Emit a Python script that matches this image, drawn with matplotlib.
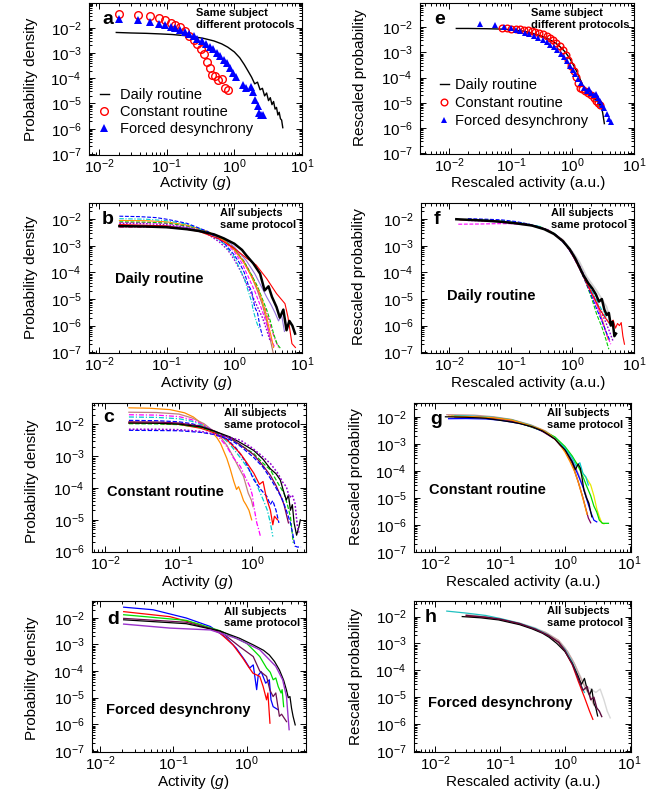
import matplotlib
matplotlib.use("Agg")
import matplotlib.pyplot as plt
from matplotlib.ticker import LogLocator, NullFormatter
import numpy as np

W, H = 664, 791

plt.rcParams.update({
    "font.family": ["Liberation Sans", "DejaVu Sans"],
    "mathtext.fontset": "custom",
    "mathtext.rm": "Liberation Sans",
    "mathtext.it": "Liberation Sans:italic",
    "axes.linewidth": 0.8,
})

# ---------------- panel a : same subject, different protocols ----------------
a_daily_x = [0.018, 0.03, 0.05, 0.08, 0.12, 0.18, 0.25, 0.35, 0.5, 0.65, 0.8, 1.0, 1.2, 1.4, 1.6,
             1.8, 2.0, 2.2, 2.4, 2.6, 2.8, 3.0, 3.2, 3.4, 3.6, 3.8, 4.0, 4.2, 4.4, 4.6, 4.8, 5.0, 5.2]
a_daily_y = [6.5e-3, 6.2e-3, 6.0e-3, 5.7e-3, 5.4e-3, 4.9e-3, 4.4e-3, 3.8e-3, 3.0e-3, 2.3e-3, 1.7e-3,
             1.1e-3, 6.5e-4, 3.5e-4, 1.9e-4, 1.1e-4, 6e-5, 7e-5, 3.5e-5, 4e-5, 2e-5, 2.6e-5, 1.3e-5,
             1.7e-5, 9e-6, 1.2e-5, 6e-6, 7e-6, 3.5e-6, 4.5e-6, 2.5e-6, 2.2e-6, 1.1e-6]
a_const_x = [0.02, 0.038, 0.057, 0.076, 0.095, 0.114, 0.135, 0.16, 0.185, 0.215, 0.25, 0.285,
             0.325, 0.36, 0.40, 0.435, 0.465, 0.52, 0.58, 0.66, 0.74, 0.8]
a_const_y = [3.5e-2, 3.3e-2, 2.8e-2, 2.4e-2, 1.95e-2, 1.6e-2, 1.3e-2, 1.07e-2, 7.1e-3, 4.8e-3,
             3.3e-3, 2.2e-3, 1.5e-3, 9e-4, 4.6e-4, 2.5e-4, 1.4e-4, 1.25e-4, 8.3e-5, 9e-5, 4e-5, 3.4e-5]
a_forced_x = [0.02, 0.038, 0.057, 0.076, 0.095, 0.114, 0.135, 0.16, 0.185, 0.215, 0.25, 0.285,
              0.33, 0.38, 0.435, 0.49, 0.55, 0.62, 0.7, 0.77, 0.86, 0.96, 1.07, 1.35, 1.5, 1.75,
              1.9, 2.05, 2.2, 2.35, 2.5, 2.65]
a_forced_y = [2.2e-2, 2.1e-2, 1.7e-2, 1.45e-2, 1.25e-2, 1.1e-2, 9.5e-3, 8.2e-3, 7e-3, 5.7e-3,
              4.6e-3, 3.7e-3, 2.9e-3, 2.2e-3, 1.7e-3, 1.4e-3, 1.0e-3, 7.5e-4, 5.5e-4, 4e-4, 2.5e-4,
              1.6e-4, 1.1e-4, 5.6e-5, 4.2e-5, 4.5e-5, 2.8e-5, 1.4e-5, 7.7e-6, 4.3e-6, 3.5e-6, 3.4e-6]

# ---------------- panel e : rescaled, same subject ----------------
e_daily_x = [0.013, 0.02, 0.04, 0.07, 0.1, 0.15, 0.2, 0.3, 0.4, 0.5, 0.6, 0.75, 0.9, 1.05, 1.2,
             1.35, 1.5, 1.7, 1.9, 2.1, 2.3, 2.5, 2.7, 2.9, 3.1, 3.3]
e_daily_y = [9e-3, 9e-3, 8.8e-3, 8.5e-3, 8e-3, 7.2e-3, 6.3e-3, 4.7e-3, 3.5e-3, 2.6e-3, 1.9e-3,
             1.1e-3, 6e-4, 3e-4, 1.6e-4, 8e-5, 4.5e-5, 3.2e-5, 2e-5, 2.4e-5, 1.3e-5, 1.6e-5, 8e-6,
             9e-6, 4e-6, 1.5e-6]
e_const_x = [0.072, 0.085, 0.1, 0.12, 0.14, 0.165, 0.19, 0.22, 0.25, 0.29, 0.33, 0.38, 0.43, 0.49,
             0.55, 0.62, 0.7, 0.78, 0.86, 0.95, 1.05, 1.15, 1.25, 1.35, 1.45, 1.6, 1.8, 2.0, 2.2,
             2.4, 2.6, 2.8]
e_const_y = [9e-3, 9e-3, 8.8e-3, 8.5e-3, 8.3e-3, 8e-3, 7.6e-3, 7.2e-3, 6.6e-3, 6e-3, 5.3e-3,
             4.6e-3, 3.8e-3, 3.1e-3, 2.4e-3, 1.8e-3, 1.2e-3, 8e-4, 5e-4, 3e-4, 1.8e-4, 1.1e-4, 6e-5,
             4e-5, 3.5e-5, 3e-5, 2.4e-5, 2e-5, 1.6e-5, 1.2e-5, 1e-5, 8e-6]
e_forced_x = [0.032, 0.056, 0.076, 0.1, 0.12, 0.14, 0.17, 0.2, 0.24, 0.28, 0.33, 0.38, 0.44, 0.5,
              0.57, 0.65, 0.73, 0.82, 0.92, 1.02, 1.12, 1.25, 1.4, 1.55, 1.7, 1.85, 2.0, 2.2, 2.4,
              2.6, 2.8, 3.0, 3.3, 3.6, 3.9, 4.2]
e_forced_y = [1.35e-2, 1.2e-2, 1.05e-2, 9e-3, 8e-3, 7.3e-3, 6.2e-3, 5.2e-3, 4.4e-3, 3.7e-3,
              3.0e-3, 2.5e-3, 2.0e-3, 1.6e-3, 1.2e-3, 9e-4, 6.5e-4, 4.5e-4, 3e-4, 2e-4, 1.4e-4,
              9e-5, 6e-5, 4e-5, 3e-5, 3.5e-5, 2.5e-5, 2e-5, 2.2e-5, 1.5e-5, 1.2e-5, 8e-6, 6e-6,
              3.5e-6, 2.2e-6, 1.8e-6]

# ---------------- panel b : all subjects, daily routine ----------------
b_blue = ([0.02, 0.04, 0.07, 0.1, 0.2, 0.4, 0.7, 1.0, 1.2, 1.4, 1.6, 1.8, 2.0, 2.2, 2.4, 2.6],
          [1.3e-2, 1.25e-2, 1.15e-2, 1.0e-2, 7e-3, 3.5e-3, 1.3e-3, 4.5e-4, 2.2e-4, 1e-4, 3.5e-5,
           2e-5, 5e-6, 3e-6, 9e-7, 4e-7])
b_cyan = ([0.02, 0.05, 0.1, 0.2, 0.4, 0.7, 1.0, 1.2, 1.4, 1.6, 1.8, 1.9, 2.1, 2.3],
          [1.05e-2, 1.0e-2, 8.8e-3, 6.5e-3, 3.4e-3, 1.2e-3, 3.8e-4, 1.4e-4, 6e-5, 2e-5, 8e-6,
           3.8e-6, 1.5e-6, 8e-7])
b_orange = ([0.02, 0.05, 0.1, 0.2, 0.4, 0.7, 1.0, 1.3, 1.6, 2.0, 2.3, 2.6, 2.9, 3.2, 3.5, 3.8],
            [9e-3, 8.8e-3, 8e-3, 6e-3, 3.5e-3, 1.6e-3, 7e-4, 3e-4, 1.2e-4, 4e-5, 2e-5, 8e-6, 3e-6,
             1e-6, 4e-7, 1.5e-7])
b_green = ([0.02, 0.05, 0.1, 0.2, 0.4, 0.7, 1.0, 1.4, 1.8, 2.2, 2.6, 3.0, 3.4, 3.8, 4.3, 4.8],
           [8e-3, 7.8e-3, 7.2e-3, 5.6e-3, 3.5e-3, 1.7e-3, 7.5e-4, 2.5e-4, 8e-5, 3e-5, 1e-5, 4e-6,
            1.5e-6, 5e-7, 2e-7, 1.4e-7])
b_magenta = ([0.02, 0.05, 0.1, 0.2, 0.4, 0.7, 1.0, 1.3, 1.6, 2.0, 2.4, 2.8, 3.2, 3.6, 4.0],
             [7.5e-3, 7.4e-3, 6.9e-3, 5.5e-3, 3.3e-3, 1.5e-3, 6e-4, 2.2e-4, 7e-5, 2e-5, 6e-6, 2e-6,
              6e-7, 2.5e-7, 1.5e-7])
b_purple = ([0.02, 0.05, 0.1, 0.2, 0.4, 0.6, 0.8, 1.0, 1.2, 1.5, 1.8, 2.2, 2.6, 3.0, 3.4],
            [7e-3, 6.8e-3, 6.2e-3, 5e-3, 2.8e-3, 1.4e-3, 7e-4, 3e-4, 1.3e-4, 4e-5, 1.5e-5, 5e-6,
             2e-6, 7e-7, 2.5e-7])
b_violet = ([0.02, 0.05, 0.1, 0.2, 0.4, 0.7, 1.0, 1.5, 2.0, 2.5, 3.0, 3.5, 4.0, 4.5, 5.0, 5.5],
            [6e-3, 5.9e-3, 5.6e-3, 4.8e-3, 3.3e-3, 1.9e-3, 9e-4, 2.8e-4, 9e-5, 3e-5, 1.2e-5, 6e-6,
             3e-6, 1.5e-6, 2.5e-6, 6e-7])
b_brown = ([0.02, 0.05, 0.1, 0.2, 0.4, 0.7, 1.0, 1.4, 1.8, 2.2, 2.6, 3.0, 3.4, 3.8],
           [5.8e-3, 5.7e-3, 5.5e-3, 4.8e-3, 3.3e-3, 1.7e-3, 7e-4, 2.3e-4, 7e-5, 2e-5, 6e-6, 1.5e-6,
            3e-7, 8e-8])
b_pink = ([0.02, 0.05, 0.1, 0.2, 0.4, 0.7, 1.0, 1.4, 1.8, 2.2, 2.6, 3.0, 3.5, 4.0, 4.5],
          [5e-3, 5e-3, 4.9e-3, 4.4e-3, 3.2e-3, 1.8e-3, 8e-4, 2.6e-4, 8e-5, 2.5e-5, 8e-6, 3e-6,
           8e-7, 3e-7, 1.5e-7])
b_red = ([0.02, 0.1, 0.3, 0.6, 1.0, 1.5, 2.1, 3.0, 4.2, 5.6, 6.2, 7.1, 8.0],
         [6.3e-3, 5.6e-3, 3.5e-3, 1.8e-3, 8e-4, 3.5e-4, 1.9e-4, 5.9e-5, 1.6e-5, 6.7e-6, 2.1e-6,
          2.1e-7, 1.5e-7])
b_black = ([0.02, 0.05, 0.1, 0.2, 0.3, 0.5, 0.7, 1.0, 1.3, 1.5, 1.9, 2.4, 2.8, 3.2, 3.6, 4.2,
            4.7, 5.3, 5.9, 6.5, 7.2, 7.9],
           [5.5e-3, 5.3e-3, 5.0e-3, 4.2e-3, 3.6e-3, 2.7e-3, 1.9e-3, 1.2e-3, 7e-4, 4.4e-4, 2.2e-4,
            9e-5, 2.1e-5, 3e-5, 1.2e-5, 5e-6, 2e-6, 4e-6, 6.7e-7, 1.5e-6, 1e-6, 5e-7])

# ---------------- panel f : rescaled, daily routine ----------------
f_gray = ([0.015, 0.05, 0.1, 0.2, 0.4, 0.7, 1.0, 1.3, 1.7, 2.1, 2.5, 3.0, 3.6, 4.0],
          [9.5e-3, 8.5e-3, 7.5e-3, 6e-3, 4e-3, 1.7e-3, 6e-4, 2.5e-4, 7e-5, 3.5e-5, 2e-5, 1e-5,
           5e-6, 2e-6])
f_blue = ([0.02, 0.04, 0.07, 0.12, 0.2, 0.35, 0.55, 0.8, 1.0, 1.3, 1.6, 2.0, 2.5, 3.0, 3.5, 4.0],
          [1.05e-2, 1.0e-2, 9.5e-3, 8.2e-3, 6.5e-3, 4.5e-3, 2.5e-3, 1e-3, 4.5e-4, 1.4e-4, 5e-5,
           1.5e-5, 4e-6, 1.5e-6, 6e-7, 3e-7])
f_cyan = ([0.018, 0.04, 0.08, 0.15, 0.3, 0.5, 0.8, 1.0, 1.3, 1.7, 2.2, 2.7, 3.2, 3.7, 4.2],
          [9.8e-3, 9.2e-3, 8.4e-3, 7.2e-3, 5.3e-3, 3e-3, 1.1e-3, 4.8e-4, 1.6e-4, 4.5e-5, 1.5e-5,
           6e-6, 3e-6, 1.5e-6, 1e-6])
f_magenta = ([0.014, 0.03, 0.06, 0.1, 0.2, 0.35, 0.55, 0.8, 1.0, 1.3, 1.7, 2.2, 2.7, 3.2, 3.7, 4.2],
             [6.5e-3, 6.6e-3, 6.8e-3, 6.8e-3, 6e-3, 4.3e-3, 2.5e-3, 1e-3, 4.5e-4, 1.5e-4, 4e-5,
              1.1e-5, 3.5e-6, 1e-6, 4e-7, 2e-7])
f_green = ([0.02, 0.04, 0.08, 0.15, 0.3, 0.5, 0.8, 1.0, 1.3, 1.7, 2.1, 2.5, 3.0, 3.5, 3.9],
           [9.5e-3, 9.2e-3, 8.5e-3, 7.3e-3, 5.2e-3, 3e-3, 1.1e-3, 5e-4, 1.5e-4, 3.5e-5, 9e-6,
            2.5e-6, 9e-7, 3e-7, 1.3e-7])
f_purple = ([0.02, 0.05, 0.1, 0.2, 0.4, 0.7, 1.0, 1.3, 1.7, 2.2, 2.8, 3.4, 4.0, 4.6],
            [9e-3, 8.6e-3, 7.8e-3, 6.3e-3, 4e-3, 1.6e-3, 5.5e-4, 1.8e-4, 5e-5, 1.4e-5, 4e-6, 1.5e-6,
             6e-7, 2.5e-7])
f_orange = ([0.02, 0.05, 0.1, 0.2, 0.4, 0.7, 1.0, 1.3, 1.7, 2.2, 2.7, 3.2, 3.8],
            [9.3e-3, 8.8e-3, 7.9e-3, 6.2e-3, 4e-3, 1.6e-3, 5e-4, 1.6e-4, 4.5e-5, 1.2e-5, 4e-6,
             1.2e-6, 3e-7])
f_red = ([0.015, 0.03, 0.06, 0.1, 0.2, 0.35, 0.5, 0.7, 0.9, 1.1, 1.4, 1.8, 2.3, 2.8, 3.4, 4.0,
          4.6, 5.0, 5.4, 5.8, 6.2, 6.6, 7.0],
         [9.5e-3, 9e-3, 8.3e-3, 7.6e-3, 6.2e-3, 4.4e-3, 2.9e-3, 1.5e-3, 7e-4, 3e-4, 1e-4, 3e-5,
          1e-5, 4e-6, 2e-6, 1.2e-6, 1.6e-6, 8e-7, 1.2e-6, 1e-6, 1.3e-6, 4e-7, 2e-7])
f_black = ([0.013, 0.02, 0.04, 0.07, 0.12, 0.22, 0.35, 0.5, 0.7, 0.9, 1.1, 1.3, 1.5, 1.8, 2.1,
            2.4, 2.7, 3.0, 3.3, 3.6, 3.9, 4.2, 4.5, 4.8, 5.1],
           [1.0e-2, 9.5e-3, 8.8e-3, 8e-3, 7e-3, 5.8e-3, 4.2e-3, 2.8e-3, 1.5e-3, 7.5e-4, 3.5e-4,
            1.6e-4, 8e-5, 4e-5, 2.5e-5, 1.5e-5, 8e-6, 1e-5, 4e-6, 2.5e-6, 3e-6, 1e-6, 1.4e-6,
            4e-7, 5e-7])

# ---------------- panel c : all subjects, constant routine ----------------
c_orange = ([0.021, 0.04, 0.076, 0.12, 0.158, 0.2, 0.27, 0.33, 0.37, 0.45, 0.5, 0.56, 0.61, 0.65,
             0.7, 0.76, 0.82, 0.9, 0.98],
            [3.3e-2, 3.2e-2, 2.9e-2, 2.3e-2, 1.7e-2, 1.1e-2, 6.5e-3, 3.8e-3, 2.5e-3, 8.5e-4, 4e-4,
             1.6e-4, 9e-5, 1.1e-4, 7e-5, 4e-5, 3e-5, 2e-5, 1e-5])
c_brown = ([0.021, 0.05, 0.1, 0.15, 0.22, 0.3, 0.37, 0.45, 0.55, 0.65, 0.76, 0.88, 0.97, 1.02],
           [2.4e-2, 2.35e-2, 2.1e-2, 1.6e-2, 1.05e-2, 6e-3, 4e-3, 2.2e-3, 9.7e-4, 4.5e-4, 2.3e-4,
            6.9e-5, 4.2e-5, 2.6e-5])
c_magenta = ([0.021, 0.05, 0.1, 0.15, 0.22, 0.3, 0.45, 0.55, 0.69, 0.8, 0.93, 1.0, 1.05, 1.15,
              1.22, 1.29],
             [2e-2, 1.95e-2, 1.75e-2, 1.4e-2, 9.5e-3, 6e-3, 2.0e-3, 9e-4, 4.7e-4, 2.2e-4, 1.1e-4,
              6e-5, 2.6e-5, 8e-6, 5e-6, 3e-6])
c_cyan = ([0.021, 0.05, 0.1, 0.15, 0.22, 0.3, 0.4, 0.5, 0.7, 0.85, 1.05, 1.2, 1.41, 1.6, 1.76, 1.9],
          [1.7e-2, 1.65e-2, 1.5e-2, 1.25e-2, 9e-3, 6e-3, 3.8e-3, 2.3e-3, 8.5e-4, 4.5e-4, 2.2e-4,
           1e-4, 4.2e-5, 2e-5, 8e-6, 3e-6])
c_blue = ([0.021, 0.05, 0.1, 0.15, 0.22, 0.3, 0.45, 0.6, 0.8, 1.05, 1.3, 1.58, 1.75, 1.9, 2.1, 2.3],
          [1.33e-2, 1.3e-2, 1.2e-2, 1.05e-2, 8.2e-3, 6e-3, 3.5e-3, 1.8e-3, 7e-4, 1.8e-4, 9e-5,
           5.4e-5, 3e-5, 4e-5, 2e-5, 8e-6])
c_red = ([0.021, 0.05, 0.1, 0.2, 0.3, 0.45, 0.69, 0.85, 1.05, 1.25, 1.4, 1.55, 1.76, 1.9, 2.0, 2.2],
         [1.1e-2, 1.08e-2, 1.0e-2, 7.5e-3, 5.5e-3, 3.3e-3, 1.2e-3, 6e-4, 2.9e-4, 1.3e-4, 1.6e-4,
          5e-5, 2e-5, 7e-6, 1.3e-5, 1e-5])
c_green = ([0.021, 0.05, 0.1, 0.2, 0.3, 0.5, 0.7, 1.05, 1.4, 1.76, 2.2, 2.7, 3.0, 3.3, 3.6],
           [1.05e-2, 1.03e-2, 9.8e-3, 8e-3, 6e-3, 3.6e-3, 2.2e-3, 1.2e-3, 6e-4, 3.7e-4, 1.5e-4,
            6.8e-5, 3e-5, 1.26e-5, 1.9e-6])
c_maroon = ([0.021, 0.05, 0.1, 0.2, 0.3, 0.5, 0.7, 1.05, 1.4, 1.76, 2.1, 2.4, 2.7, 2.9, 3.1],
            [1.2e-2, 1.18e-2, 1.1e-2, 8.8e-3, 6.3e-3, 3.7e-3, 2.2e-3, 1.1e-3, 5e-4, 2.5e-4, 1.2e-4,
             6e-5, 3e-5, 1.5e-5, 8e-6])
c_black = ([0.021, 0.05, 0.1, 0.2, 0.3, 0.5, 0.7, 1.05, 1.4, 1.76, 2.1, 2.4, 2.7, 2.9, 3.1, 3.3,
            3.5, 3.7, 4.0, 4.3, 4.5],
           [1.1e-2, 1.08e-2, 1.02e-2, 8.3e-3, 6.2e-3, 4e-3, 2.6e-3, 1.5e-3, 8e-4, 4e-4, 2.8e-4,
            1.8e-4, 7e-5, 4.2e-5, 6e-5, 2e-5, 3e-5, 8e-6, 3.3e-6, 6e-6, 1e-5])
c_blue2 = ([0.021, 0.05, 0.1, 0.2, 0.3, 0.5, 0.7, 1.05, 1.4, 1.76, 2.1, 2.5, 2.9, 3.3, 3.6, 3.8,
            4.1, 4.6],
           [6.5e-3, 6.4e-3, 6.3e-3, 5.6e-3, 4.8e-3, 3.3e-3, 2e-3, 9e-4, 4.5e-4, 2e-4, 1e-4, 5e-5,
            2e-5, 8e-6, 3e-6, 1.5e-6, 1.4e-6, 1.4e-6])
c_purple = ([0.021, 0.05, 0.1, 0.2, 0.3, 0.45, 0.69, 1.0, 1.3, 1.76, 2.2, 2.6, 2.9, 3.2, 3.5, 3.8,
             4.1, 4.3],
            [7e-3, 7e-3, 6.8e-3, 6e-3, 5e-3, 4e-3, 3.2e-3, 1.8e-3, 1.1e-3, 5.9e-4, 3e-4, 1.5e-4,
             1.1e-4, 5e-5, 6e-5, 3.3e-5, 6.3e-6, 4e-6])

# ---------------- panel g : rescaled, constant routine ----------------
g_pink = ([0.015, 0.04, 0.08, 0.15, 0.3, 0.5, 0.7, 1.0, 1.3, 1.6, 2.0, 2.4],
          [1.2e-2, 1.15e-2, 1.0e-2, 8e-3, 5e-3, 3e-3, 1.7e-3, 6.5e-4, 2.5e-4, 8e-5, 2e-5, 5e-6])
g_blue = ([0.016, 0.03, 0.06, 0.1, 0.2, 0.31, 0.5, 0.7, 1.0, 1.3, 1.6, 1.9, 2.2, 2.5, 2.8, 3.1],
          [8.5e-3, 8.6e-3, 8.3e-3, 7.5e-3, 5.7e-3, 4.3e-3, 2.6e-3, 1.5e-3, 6e-4, 2.2e-4, 7e-5,
           2.5e-5, 8e-6, 3e-6, 1.5e-6, 1.3e-6])
g_yellow = ([0.02, 0.05, 0.1, 0.2, 0.4, 0.7, 1.0, 1.3, 1.6, 1.9, 2.2, 2.5, 2.8, 3.1, 3.4, 3.7, 4.0],
            [1.0e-2, 9.5e-3, 8.3e-3, 6.2e-3, 3.6e-3, 1.7e-3, 7e-4, 3.2e-4, 1.6e-4, 8e-5, 5e-5,
             3e-5, 1.2e-5, 4e-6, 2e-6, 1.2e-6, 1.1e-6])
g_green = ([0.018, 0.04, 0.08, 0.15, 0.3, 0.4, 0.5, 0.7, 1.0, 1.3, 1.6, 1.9, 2.2, 2.5, 2.8, 3.1,
            3.4, 3.8, 4.2, 4.7],
           [1.05e-2, 1.0e-2, 9e-3, 7.5e-3, 4.2e-3, 3.3e-3, 2.7e-3, 1.8e-3, 8e-4, 3.5e-4, 1.5e-4,
            6e-5, 2.5e-5, 1.2e-5, 5e-6, 3e-6, 1.5e-6, 1.15e-6, 1.15e-6, 1.15e-6])
g_cyan = ([0.02, 0.04, 0.08, 0.15, 0.3, 0.5, 0.7, 1.0, 1.3, 1.5, 1.7, 1.9, 2.1, 2.3],
          [1.1e-2, 1.05e-2, 9.5e-3, 7.8e-3, 4.8e-3, 2.8e-3, 1.6e-3, 7e-4, 3e-4, 1.5e-4, 2e-4,
           8e-5, 6e-5, 3e-5])
g_purple = ([0.02, 0.05, 0.1, 0.2, 0.4, 0.7, 1.0, 1.3, 1.6, 1.9, 2.1, 2.3, 2.5],
            [1.0e-2, 9.5e-3, 8.4e-3, 6e-3, 3.4e-3, 1.5e-3, 5.5e-4, 1.8e-4, 4e-5, 1e-5, 4e-6,
             1.8e-6, 1.2e-6])
g_orange = ([0.016, 0.04, 0.08, 0.15, 0.3, 0.45, 0.6, 0.8, 1.0, 1.2, 1.4, 1.6, 1.8, 2.0, 2.2],
            [1.05e-2, 1.0e-2, 9.2e-3, 7.6e-3, 4.6e-3, 3.2e-3, 2.1e-3, 1.1e-3, 5e-4, 2.2e-4, 1e-4,
             4e-5, 1.5e-5, 6e-6, 2.5e-6])
g_black = ([0.0143, 0.03, 0.06, 0.095, 0.15, 0.2, 0.31, 0.45, 0.57, 0.7, 0.85, 1.01, 1.15, 1.29,
            1.45, 1.6, 1.73, 1.85, 1.96, 2.15, 2.34, 2.6],
           [1.0e-2, 9.6e-3, 8.8e-3, 7.5e-3, 6.4e-3, 5.6e-3, 4.3e-3, 3e-3, 2.1e-3, 1.5e-3, 9e-4,
            5.9e-4, 3.5e-4, 2.2e-4, 1.1e-4, 1.8e-4, 1.25e-4, 5e-5, 2e-5, 1e-5, 6.4e-6, 2e-6])

# ---------------- panel d : all subjects, forced desynchrony ----------------
d_blue = ([0.021, 0.053, 0.15, 0.32, 0.53, 0.72, 0.94, 1.1, 1.23, 1.37, 1.44, 1.58, 1.82, 2.04,
           2.15, 2.3, 2.7],
          [2.5e-2, 2e-2, 9.8e-3, 4.7e-3, 1.75e-3, 7.3e-4, 2.6e-4, 1.3e-4, 1.7e-4, 2e-5, 7e-5,
           9.5e-5, 3.5e-5, 4.7e-5, 8.3e-6, 4.6e-6, 3.5e-6])
d_red = ([0.021, 0.09, 0.23, 0.43, 0.65, 0.89, 1.05, 1.22, 1.51, 1.68, 1.87, 1.95, 2.08],
         [1.7e-2, 1.1e-2, 5.5e-3, 2.7e-3, 9.7e-4, 3e-4, 1.5e-4, 8.3e-5, 6.3e-5, 2.6e-5, 8.3e-6,
          1.5e-5, 1.1e-6])
d_green = ([0.021, 0.15, 0.43, 1.0, 1.25, 1.51, 1.87, 2.1, 2.3, 2.5, 2.7, 2.95, 3.05, 3.2],
           [1.3e-2, 8e-3, 3.3e-3, 1.1e-3, 6e-4, 3.5e-4, 1.3e-4, 9e-5, 4.7e-5, 5.5e-5, 2.6e-5,
            1.5e-5, 2e-5, 4.6e-6])
d_maroon = ([0.021, 0.15, 0.43, 0.81, 1.23, 1.51, 1.87, 2.08, 2.3, 2.5, 2.8, 3.0, 3.5],
            [9.5e-3, 6.8e-3, 3.2e-3, 8.1e-4, 3.5e-4, 1e-4, 6.3e-5, 1.9e-5, 1.1e-5, 1.5e-5, 2e-6,
             2.4e-6, 1.26e-6])
d_black = ([0.021, 0.15, 0.43, 0.8, 1.23, 1.7, 2.04, 2.4, 2.8, 3.2, 3.5, 3.7, 3.9, 4.1, 4.3, 4.6],
           [8.4e-3, 6e-3, 3.2e-3, 1.7e-3, 9.6e-4, 6e-4, 4e-4, 2.3e-4, 1.1e-4, 4.5e-5, 1.9e-5,
            1e-5, 1.1e-5, 4e-6, 2e-6, 9.5e-7])
d_violet = ([0.021, 0.09, 0.32, 0.72, 1.51, 2.5, 3.1, 3.5, 3.65, 3.8],
            [5.8e-3, 4.1e-3, 3.5e-3, 1.7e-3, 6.3e-4, 1.5e-4, 4.7e-5, 1.1e-5, 2.5e-6, 6.3e-7])

# ---------------- panel h : rescaled, forced desynchrony ----------------
h_gray = ([0.03, 0.06, 0.1, 0.2, 0.35, 0.55, 0.8, 1.0, 1.3, 1.6, 2.0, 2.5, 3.0, 3.5, 4.0, 4.5, 5.0],
          [1.2e-2, 1.0e-2, 8.3e-3, 5.8e-3, 3.8e-3, 2.3e-3, 1.3e-3, 7e-4, 2.5e-4, 9e-5, 3e-5, 2e-5,
           1.5e-5, 2e-5, 8e-6, 3e-6, 1.7e-6])
h_pink = ([0.03, 0.07, 0.15, 0.3, 0.5, 0.8, 1.1, 1.4, 1.7, 2.1, 2.5, 2.8],
          [1.15e-2, 9e-3, 6.5e-3, 4e-3, 2.6e-3, 1.3e-3, 5e-4, 1.8e-4, 6e-5, 2e-5, 1e-5, 5e-6])
h_cyan = ([0.015, 0.03, 0.06, 0.1, 0.2, 0.35, 0.55, 0.8, 1.0, 1.3, 1.6, 1.8, 2.0],
          [1.6e-2, 1.35e-2, 1.1e-2, 8.5e-3, 5.6e-3, 3.6e-3, 2.1e-3, 1.1e-3, 6e-4, 2e-4, 6e-5,
           2.5e-5, 1.5e-5])
h_red = ([0.03, 0.06, 0.1, 0.2, 0.35, 0.55, 0.8, 1.0, 1.3, 1.6, 2.0, 2.4, 2.7],
         [1.05e-2, 9.2e-3, 7.8e-3, 5.3e-3, 3.3e-3, 2e-3, 1.1e-3, 5.2e-4, 1.6e-4, 4e-5, 1e-5, 3e-6,
          1.5e-6])
h_black = ([0.026, 0.05, 0.095, 0.2, 0.31, 0.45, 0.57, 0.75, 1.0, 1.3, 1.6, 1.8, 2.0, 2.2, 2.4,
            2.6, 2.8, 3.0, 3.2],
           [1.0e-2, 9e-3, 7.5e-3, 5e-3, 3.5e-3, 2.4e-3, 1.7e-3, 1e-3, 5e-4, 1.8e-4, 6e-5, 3e-5,
            5e-5, 2e-5, 1.2e-5, 2e-5, 6e-6, 4e-6, 2e-6])
h_maroon = ([0.03, 0.06, 0.1, 0.2, 0.35, 0.55, 0.8, 1.0, 1.3, 1.6, 1.9, 2.2, 2.5, 2.8, 3.1, 3.4, 3.7],
            [1.1e-2, 9.5e-3, 8e-3, 5.5e-3, 3.4e-3, 2e-3, 1.1e-3, 5.5e-4, 1.7e-4, 5e-5, 1.8e-5,
             2.5e-5, 8e-6, 1e-5, 4e-6, 3e-6, 1.9e-6])

DASH = (0, (3.5, 1.5))
DASHDOT = (0, (4, 1.5, 1, 1.5))
DOT = (0, (1.2, 1.2))

fig = plt.figure(figsize=(W / 100, H / 100), dpi=100)


def add_axes(l, t, r, b, xl, yl):
    ax = fig.add_axes([l / W, 1 - b / H, (r - l) / W, (b - t) / H])
    ax.set_xscale("log")
    ax.set_yscale("log")
    ax.set_xlim(10 ** xl[0], 10 ** xl[1])
    ax.set_ylim(10 ** yl[0], 10 ** yl[1])
    for axis in (ax.xaxis, ax.yaxis):
        axis.set_major_locator(LogLocator(base=10, numticks=30))
        axis.set_minor_locator(LogLocator(base=10, subs=np.arange(2, 10), numticks=100))
        axis.set_minor_formatter(NullFormatter())
    ax.tick_params(which="both", direction="in", top=True, right=True, width=0.7)
    ax.tick_params(which="major", length=4, labelsize=11)
    ax.tick_params(axis="y", which="major", pad=5.5)
    ax.tick_params(axis="x", which="major", pad=1.5)
    ax.tick_params(which="minor", length=2)
    return ax


def ftext(x, y, s, **kw):
    fig.text(x / W, 1 - y / H, s, **kw)


def draw(ax, curves):
    for (xs, ys), col, ls, lw in curves:
        ax.plot(xs, ys, color=col, ls=ls, lw=lw)


def annotate(lx, ly, letter, tx, ty, lines, px, py, name):
    ftext(lx, ly, letter, fontsize=14, fontweight="bold", va="center")
    ftext(tx, ty, lines[0], fontsize=8, fontweight="bold", va="center")
    ftext(tx, ty + 11.5, lines[1], fontsize=8, fontweight="bold", va="center")
    if name:
        ftext(px, py, name, fontsize=10.5, fontweight="bold", va="center")


def labels(xc, yc, xlab, ylx, yly, ylab):
    ftext(xc, yc, xlab, fontsize=11, ha="center", va="center")
    ftext(ylx, yly, ylab, fontsize=11, ha="center", va="center", rotation=90)


ACT = r"Activity ($\mathit{g}$)"
RACT = "Rescaled activity (a.u.)"

# ---- a ----
ax = add_axes(89, 3, 302, 155, (-2.148, 1.0), (-7.04, -1.02))
ax.plot(a_daily_x, a_daily_y, color="black", lw=1.0, label="Daily routine")
ax.plot(a_const_x, a_const_y, "o", mfc="none", mec="#ff0000", mew=1.0, ms=5.5, label="Constant routine")
ax.plot(a_forced_x, a_forced_y, "^", color="#0000ff", ms=6, mew=0, label="Forced desynchrony")
ax.legend(loc="upper left", bbox_to_anchor=(100 / W, 1 - 88 / H), bbox_transform=fig.transFigure,
          frameon=False, fontsize=10.5, handlelength=0.6, handletextpad=0.75, labelspacing=0.22,
          borderpad=0, borderaxespad=0, markerscale=1.0)
annotate(102, 19, "a", 196, 13.5, ["Same subject", "different protocols"], 0, 0, None)
labels(195, 183, ACT, 31, 79, "Probability density")

# ---- e ----
ax = add_axes(420, 3, 634, 154, (-2.476, 1.0), (-7.03, -1.035))
ax.plot(e_daily_x, e_daily_y, color="black", lw=1.0, label="Daily routine")
ax.plot(e_const_x, e_const_y, "o", mfc="none", mec="#ff0000", mew=1.0, ms=4.8, label="Constant routine")
ax.plot(e_forced_x, e_forced_y, "^", color="#0000ff", ms=5, mew=0, label="Forced desynchrony")
ax.legend(loc="upper left", bbox_to_anchor=(440 / W, 1 - 78 / H), bbox_transform=fig.transFigure,
          frameon=False, fontsize=10.5, handlelength=0.6, handletextpad=0.4, labelspacing=0.28,
          borderpad=0, borderaxespad=0)
annotate(434, 19, "e", 531, 13.5, ["Same subject", "different protocols"], 0, 0, None)
labels(528, 183, RACT, 360, 78, "Rescaled probability")

# ---- b ----
ax = add_axes(89, 203, 302, 353, (-2.148, 1.0), (-7.03, -1.39))
draw(ax, [
    (b_brown, "#b07060", "-", 0.8),
    (b_pink, "#ff1493", DASHDOT, 0.8),
    (b_violet, "#9370db", "-", 0.8),
    (b_purple, "#9400d3", DOT, 1.0),
    (b_magenta, "#ff00ff", DASH, 0.8),
    (b_green, "#00cc00", DASH, 0.8),
    (b_orange, "#ff8c00", "-", 0.8),
    (b_cyan, "#00cccc", DASHDOT, 0.8),
    (b_blue, "#0000ff", DASH, 0.8),
    (b_red, "#ff0000", "-", 0.8),
    (b_black, "black", "-", 1.8),
])
annotate(102, 219, "b", 220, 213, ["All subjects", "same protocol"], 115, 279, "Daily routine")
labels(196, 383, ACT, 31, 277, "Probability density")

# ---- f ----
ax = add_axes(421, 203, 634, 353, (-2.46, 1.0), (-7.03, -1.39))
draw(ax, [
    (f_gray, "#d0d0d0", "-", 1.2),
    (f_orange, "#ff8c00", "-", 0.8),
    (f_green, "#00cc00", DASH, 0.8),
    (f_purple, "#9400d3", DOT, 1.0),
    (f_cyan, "#00cccc", DASHDOT, 0.8),
    (f_magenta, "#ff00ff", DASH, 0.8),
    (f_blue, "#0000ff", DASH, 0.8),
    (f_red, "#ff0000", "-", 0.8),
    (f_black, "black", "-", 1.8),
])
annotate(434, 219, "f", 551, 213, ["All subjects", "same protocol"], 447, 296, "Daily routine")
labels(528, 383, RACT, 359, 277, "Rescaled probability")

# ---- c ----
ax = add_axes(92, 403, 306, 552, (-2.18, 0.73), (-6.01, -1.33))
draw(ax, [
    (c_orange, "#ff8c00", "-", 0.9),
    (c_brown, "#c08080", "-", 0.9),
    (c_magenta, "#ff00ff", DASHDOT, 0.9),
    (c_cyan, "#00cccc", DASHDOT, 0.9),
    (c_blue, "#0000ff", DASH, 0.9),
    (c_red, "#ff0000", "-", 0.9),
    (c_green, "#00cc00", DASH, 0.9),
    (c_maroon, "#800050", "-", 0.9),
    (c_black, "black", "-", 0.9),
    (c_blue2, "#0000ff", DASH, 0.9),
    (c_purple, "#9400d3", DOT, 1.1),
])
annotate(103, 418, "c", 224, 413, ["All subjects", "same protocol"], 107, 492, "Constant routine")
labels(197, 582, ACT, 32, 481, "Probability density")

# ---- g ----
ax = add_axes(414, 403, 631, 552, (-2.33, 1.02), (-7.0, -1.49))
draw(ax, [
    (g_pink, "#c89090", "-", 0.9),
    (g_yellow, "#e8e800", "-", 0.9),
    (g_green, "#00dd00", "-", 0.9),
    (g_blue, "#0000ff", "-", 0.9),
    (g_cyan, "#00cccc", "-", 0.9),
    (g_purple, "#800060", "-", 0.9),
    (g_orange, "#ff8c00", "-", 1.0),
    (g_black, "black", "-", 0.9),
])
annotate(430, 419, "g", 547, 413, ["All subjects", "same protocol"], 429, 490, "Constant routine")
labels(523, 582, RACT, 356, 477, "Rescaled probability")

# ---- d ----
ax = add_axes(92, 601, 306, 752, (-2.11, 0.81), (-7.04, -1.37))
draw(ax, [
    (d_blue, "#0000ff", "-", 0.9),
    (d_red, "#ff0000", "-", 0.9),
    (d_green, "#00dd00", "-", 0.9),
    (d_maroon, "#6b0f4f", "-", 0.9),
    (d_black, "black", "-", 0.9),
    (d_violet, "#9932cc", "-", 1.0),
])
annotate(107, 619, "d", 224, 612, ["All subjects", "same protocol"], 106, 710, "Forced desynchrony")
labels(193, 782, ACT, 32, 678, "Probability density")

# ---- h ----
ax = add_axes(414, 601, 631, 752, (-2.33, 1.02), (-7.04, -1.42))
draw(ax, [
    (h_gray, "#d8d8d8", "-", 1.0),
    (h_pink, "#c8a0a0", "-", 0.9),
    (h_cyan, "#20c0c0", "-", 0.9),
    (h_red, "#ff0000", "-", 0.9),
    (h_black, "black", "-", 0.9),
    (h_maroon, "#5c0a3c", "-", 1.0),
])
annotate(425, 617, "h", 547, 611, ["All subjects", "same protocol"], 428, 703, "Forced desynchrony")
labels(523, 782, RACT, 356, 677, "Rescaled probability")

fig.savefig("out.png", dpi=100)
